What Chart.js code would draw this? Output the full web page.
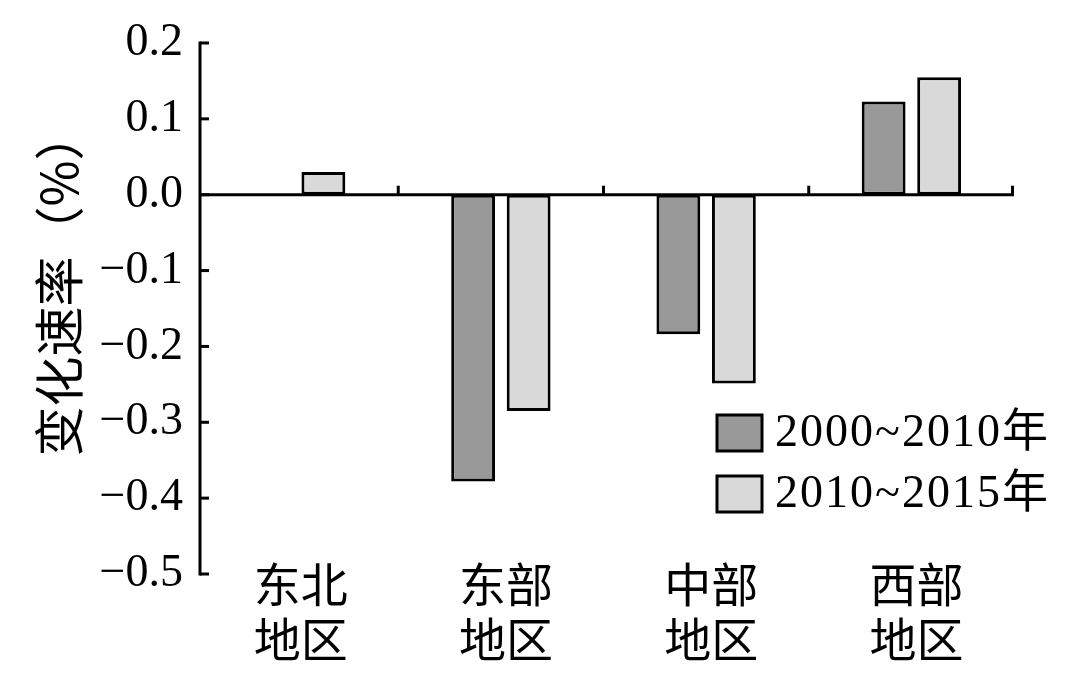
<!DOCTYPE html>
<html>
<head>
<meta charset="utf-8">
<script src="https://cdn.jsdelivr.net/npm/chart.js@4/dist/chart.umd.min.js"></script>
<style>
  html, body { margin: 0; padding: 0; background: #fff; }
  #wrap { width: 1080px; height: 674px; }
</style>
</head>
<body>
<div id="wrap"><canvas id="myChart"></canvas></div>
<script>
var regions = [["东北", "地区"], ["东部", "地区"], ["中部", "地区"], ["西部", "地区"]];
var seriesNames = ["2000~2010年", "2010~2015年"];
var rate2000_2010 = [0, -0.378, -0.184, 0.123];
var rate2010_2015 = [0.030, -0.285, -0.249, 0.155];
var yTicks = [0.2, 0.1, 0.0, -0.1, -0.2, -0.3, -0.4, -0.5];

var numFont = "'Liberation Serif', 'Noto Sans CJK SC', serif";
var cjkFont = "'Noto Sans CJK SC', sans-serif";

// y axis line, zero line, inward ticks, category labels, legend box
var axisPlugin = {
    id: "axisPlugin",
    afterDatasetsDraw: function(chart){
        var ctx = chart.ctx, area = chart.chartArea;
        var x = chart.scales.x, y = chart.scales.y;
        var y0 = y.getPixelForValue(0);
        var ax = area.left + 7; // the axis sits a bit inside the first category
        ctx.save();
        ctx.strokeStyle = "#000";
        ctx.lineWidth = 3;
        ctx.lineCap = "butt";

        ctx.beginPath();
        ctx.moveTo(ax, y.getPixelForValue(0.2) - 1.5);
        ctx.lineTo(ax, y.getPixelForValue(-0.5) + 1.5);
        ctx.stroke();

        ctx.beginPath();
        ctx.moveTo(ax, y0);
        ctx.lineTo(area.right, y0);
        ctx.stroke();

        // category boundary ticks pointing up
        var half = (x.getPixelForValue(1) - x.getPixelForValue(0)) / 2;
        for (var i = 0; i < regions.length; i++) {
            var bx = x.getPixelForValue(i) + half;
            if (i == regions.length - 1) bx = area.right - 1.5;
            ctx.beginPath();
            ctx.moveTo(bx, y0);
            ctx.lineTo(bx, y0 - 9);
            ctx.stroke();
        }

        // y ticks pointing right
        yTicks.forEach(function(v){
            var py = y.getPixelForValue(v);
            ctx.beginPath();
            ctx.moveTo(ax, py);
            ctx.lineTo(ax + 9, py);
            ctx.stroke();
        });

        // two-line category names (they reach up past the plot bottom)
        ctx.fillStyle = "#000";
        ctx.font = "47px " + cjkFont;
        ctx.textAlign = "center";
        ctx.textBaseline = "middle";
        regions.forEach(function(lines, i){
            var cx = x.getPixelForValue(i) + 5;
            lines.forEach(function(t, j){
                ctx.fillText(t, cx, x.top + 10 + j * 55);
            });
        });

        // legend
        var rows = [433, 494];
        chart.data.datasets.forEach(function(ds, k){
            var cy = rows[k];
            ctx.fillStyle = ds.backgroundColor;
            ctx.fillRect(717, cy - 18, 45, 36);
            ctx.lineWidth = 3;
            ctx.strokeRect(717, cy - 18, 45, 36);
            ctx.fillStyle = "#000";
            ctx.font = "46px " + numFont;
            ctx.letterSpacing = "2px";
            ctx.textBaseline = "middle";
            ctx.textAlign = "left";
            ctx.fillText(ds.label, 775, cy + 1);
        });
        ctx.restore();
    }
};

var ctx = document.getElementById("myChart").getContext("2d");
var myChart = new Chart(ctx, {
    type: "bar",
    data: {
        labels: regions,
        datasets: [
            { label: seriesNames[0], data: rate2000_2010, backgroundColor: "#999999",
              borderColor: "#000", borderWidth: 3, borderSkipped: false },
            { label: seriesNames[1], data: rate2010_2015, backgroundColor: "#d9d9d9",
              borderColor: "#000", borderWidth: 3, borderSkipped: false }
        ]
    },
    options: {
        responsive: true,
        maintainAspectRatio: false,
        animation: false,
        devicePixelRatio: 1,
        layout: { padding: { top: 43, right: 66, left: 0, bottom: 0 } },
        datasets: { bar: { categoryPercentage: 0.541, barPercentage: 0.79 } },
        plugins: { legend: { display: false }, tooltip: { enabled: false } },
        scales: {
            x: {
                grid: { display: false },
                border: { display: false },
                ticks: { display: false },
                afterFit: function(s){ s.height = 100; }
            },
            y: {
                min: -0.5,
                max: 0.2,
                afterBuildTicks: function(s){
                    s.ticks = yTicks.map(function(v){ return { value: v }; });
                },
                grid: { display: false, drawOnChartArea: false, drawTicks: false },
                border: { display: false },
                ticks: {
                    color: "#000",
                    font: { family: numFont, size: 46 },
                    padding: 10,
                    callback: function(v){ return Number(v).toFixed(1).replace("-", "\u2212"); }
                },
                title: {
                    display: true,
                    text: "\u3000变化速率（%）",
                    color: "#000",
                    font: { family: cjkFont, size: 50 },
                    padding: { top: 29, bottom: 0 }
                },
                afterFit: function(s){ s.width = 193; }
            }
        }
    },
    plugins: [axisPlugin]
});
</script>
</body>
</html>
